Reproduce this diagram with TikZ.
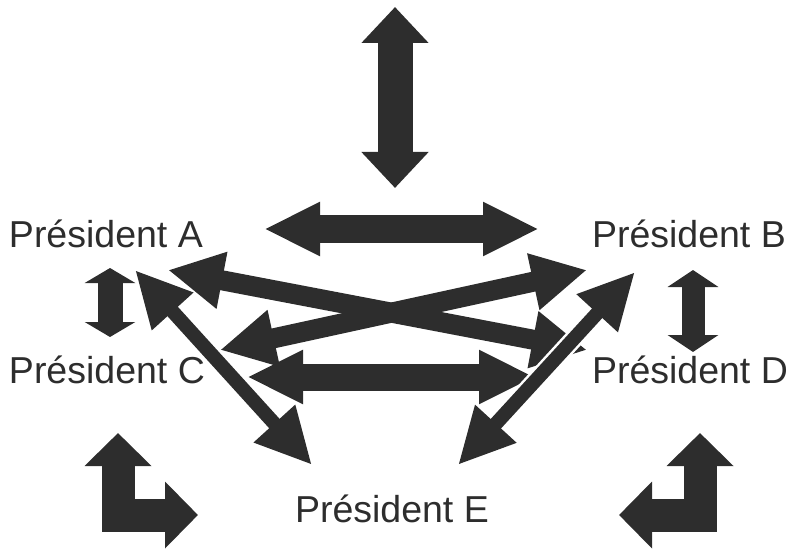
\documentclass[tikz,border=0pt]{standalone}
\usepackage{fontspec}
\setmainfont{Liberation Sans}
\usetikzlibrary{arrows.meta}
\definecolor{ink}{HTML}{2D2D2D}
\tikzset{%
  president/.style={anchor=base west,inner sep=0pt,outer sep=0pt,text=ink,
    font=\fontsize{37.5}{42}\selectfont},%
  % fat double arrow: shaft width, head length, head width
  fat arrow/.style n args={3}{draw=ink,line width=#1,line join=miter,
    >={Triangle[length=#2,width=#3]},<->},%
  halo/.style={draw=white,line width=#1,shorten <=50pt,shorten >=50pt}%
}

\begin{document}
\begin{tikzpicture}[x=1pt,y=-1pt]
\useasboundingbox (0,0) rectangle (791,548);

% the five presidents
\node[president] (A) at (9,247) {Président A};
\node[president] (B) at (592,247) {Président B};
\node[president] (C) at (9,383) {Président C};
\node[president] (D) at (592,383) {Président D};
\node[president] (E) at (295,522) {Président E};

% end points of the arrows
\coordinate (top1) at (395,7);
\coordinate (top2) at (395,188);
\coordinate (mid1) at (264,229);
\coordinate (mid2) at (539,229);
\coordinate (ac1) at (110,268);
\coordinate (ac2) at (110,337);
\coordinate (bd1) at (693,270);
\coordinate (bd2) at (693,352);
\coordinate (ad1) at (168,270);
\coordinate (ad2) at (587,350);
\coordinate (cb1) at (220,350);
\coordinate (cb2) at (587,270);
\coordinate (cd1) at (247,377);
\coordinate (cd2) at (535,377);
\coordinate (ae1) at (135,270);
\coordinate (ae2) at (312,465);
\coordinate (be1) at (635,272);
\coordinate (be2) at (458,465);

\draw[fat arrow={35pt}{36pt}{65pt}] (top1) -- (top2);
\draw[fat arrow={28pt}{56pt}{50pt}] (mid1) -- (mid2);
\draw[fat arrow={25pt}{15pt}{50pt}] (ac1) -- (ac2);
\draw[fat arrow={23pt}{17pt}{50pt}] (bd1) -- (bd2);
\draw[fat arrow={20pt}{55pt}{54pt}] (ad1) -- (ad2);
\draw[fat arrow={20pt}{55pt}{54pt}] (cb1) -- (cb2);
\draw[fat arrow={27pt}{56pt}{50pt}] (cd1) -- (cd2);
% the two arrows to E lie on top, with a thin white rim
\draw[halo=19pt] (ae1) -- (ae2);
\draw[halo=19pt] (be1) -- (be2);
\draw[fat arrow={14pt}{56pt}{52pt}] (ae1) -- (ae2);
\draw[fat arrow={14pt}{56pt}{52pt}] (be1) -- (be2);

% corner arrows
\draw[fat arrow={33pt}{33pt}{65pt}] (118,433) -- (118,515) -- (198,515);
\draw[fat arrow={33pt}{33pt}{65pt}] (700,433) -- (700,515) -- (619,515);

\end{tikzpicture}
\end{document}
